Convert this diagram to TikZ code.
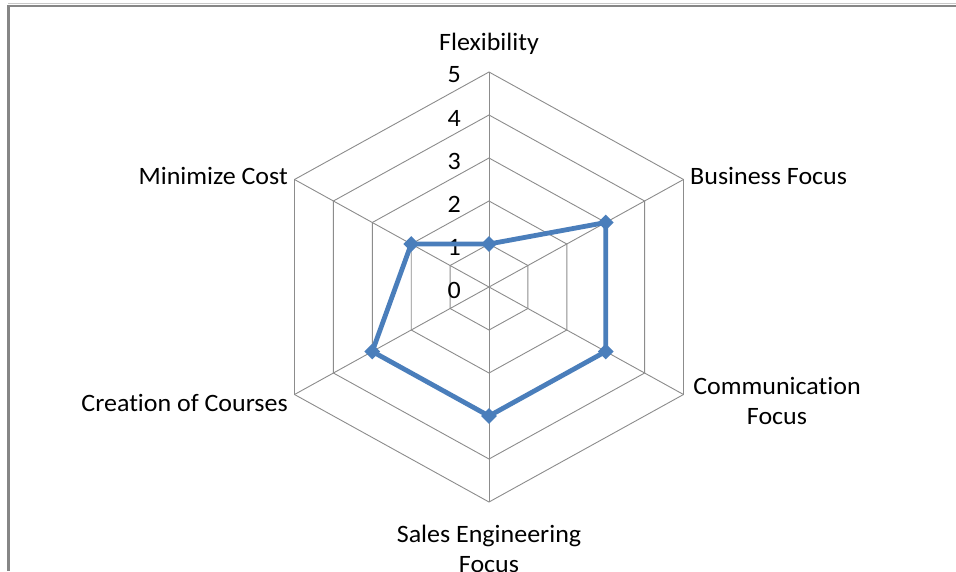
\documentclass[tikz,border=0pt]{standalone}
\usepackage{fontspec}
\setmainfont{Carlito}[FakeStretch=1.04, Ligatures={NoCommon}]
\usetikzlibrary{shapes.geometric}
\definecolor{serie}{HTML}{4A7EBB}
\definecolor{gridc}{HTML}{8C8C8C}
\definecolor{framec}{HTML}{868686}
\begin{document}
\begin{tikzpicture}[x=1pt,y=-1pt,
  gridline/.style={draw=gridc, line width=0.9pt},
  spoke/.style={draw=gridc, line width=0.9pt},
  serieline/.style={draw=serie, line width=4.8pt, line join=round},
  marker/.style={diamond, fill=serie, inner sep=0pt, minimum width=16pt, minimum height=16pt},
  lab/.style={font=\fontsize{25}{30}\selectfont, inner sep=0pt, align=center},
  num/.style={font=\fontsize{25}{30}\selectfont, inner sep=0pt, anchor=east}]
\useasboundingbox (0,0) rectangle (956,571);
\fill[white] (0,0) rectangle (956,571);
% frame
\draw[framec!45, line width=1pt] (8,3.5) -- (956,3.5);
\draw[framec, line width=2.2pt] (8,5.6) -- (956,5.6);
\draw[framec, line width=3pt] (8.5,5) -- (8.5,571);
\begin{scope}[shift={(489,287)}]
  \foreach \k in {1,...,5}{
    \draw[gridline] (0,-43*\k) -- (38.9*\k,-21.5*\k) -- (38.9*\k,21.5*\k) -- (0,43*\k) -- (-38.9*\k,21.5*\k) -- (-38.9*\k,-21.5*\k) -- cycle;
  }
  \coordinate (v1) at (0,-215);
  \coordinate (v2) at (194.5,-107.5);
  \coordinate (v3) at (194.5,107.5);
  \coordinate (v4) at (0,215);
  \coordinate (v5) at (-194.5,107.5);
  \coordinate (v6) at (-194.5,-107.5);
  \coordinate (c) at (0,0);
  \foreach \v in {v1,v2,v3,v4,v5,v6}{\draw[spoke] (c) -- (\v);}
  \foreach \k in {0,...,5}{
    \node[num] (n\k) at (-28,{-43*\k+3}) {\k};
  }
  \coordinate (p1) at (0,-43);
  \coordinate (p2) at (116.7,-64.5);
  \coordinate (p3) at (116.7,64.5);
  \coordinate (p4) at (0,129);
  \coordinate (p5) at (-116.7,64.5);
  \coordinate (p6) at (-77.8,-43);
  \draw[serieline] (p1) -- (p2) -- (p3) -- (p4) -- (p5) -- (p6) -- cycle;
  \foreach \p in {p1,p2,p3,p4,p5,p6}{\node[marker] (m\p) at (\p) {};}
\end{scope}
\node[lab] (flex) at (489,44) {Flexibility};
\node[lab, anchor=west] (bus) at (690,176) {Business Focus};
\node[lab] (com) at (777,401) {Communication\\Focus};
\node[lab] (sal) at (489,549) {Sales Engineering\\Focus};
\node[lab, anchor=east] (cre) at (288,403) {Creation of Courses};
\node[lab, anchor=east] (min) at (288,176) {Minimize Cost};
\end{tikzpicture}
\end{document}
